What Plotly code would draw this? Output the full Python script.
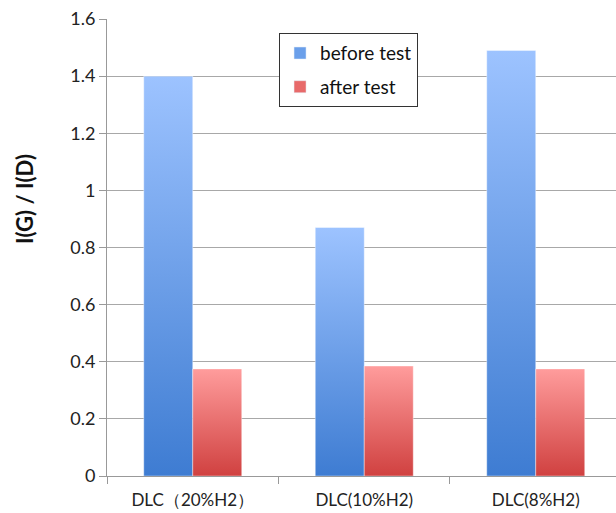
import plotly.graph_objects as go

categories = ["DLC（20%H2）", "DLC(10%H2)", "DLC(8%H2)"]
before_test = [1.40, 0.87, 1.49]
after_test = [0.375, 0.385, 0.375]
y_ticks = [0, 0.2, 0.4, 0.6, 0.8, 1, 1.2, 1.4, 1.6]
y_tick_text = ["0", "0.2", "0.4", "0.6", "0.8", "1", "1.2", "1.4", "1.6"]

series = [
    ("before test", before_test, "#3E7CD2", "#9DC3FF", "#6A9FEA", -1),
    ("after test", after_test, "#D04140", "#FF9C9C", "#E86A6A", 0),
]
bar_w = 0.2857

fig = go.Figure()
for name, vals, bottom, top, mid, side in series:
    for i, v in enumerate(vals):
        x0 = i + side * bar_w
        x1 = x0 + bar_w
        fig.add_trace(go.Scatter(
            x=[x0, x0, x1, x1, x0], y=[0, v, v, 0, 0],
            mode="lines", line=dict(width=0.8, color="rgba(255,255,255,0.5)"),
            fill="toself",
            fillgradient=dict(type="vertical", colorscale=[[0, bottom], [1, top]]),
            showlegend=False, hoverinfo="skip",
        ))
    fig.add_trace(go.Bar(x=[None], y=[None], name=name, marker_color=mid,
                         legendgroup=name, showlegend=True))

font_family = "Lato, 'Open Sans', sans-serif"
fig.update_layout(
    width=616, height=513,
    margin=dict(l=107, r=0, t=19, b=37),
    plot_bgcolor="white", paper_bgcolor="white",
    font=dict(family=font_family, size=17, color="#222"),
    showlegend=True,
    legend=dict(x=0.338, y=0.969, xanchor="left", yanchor="top",
                bordercolor="#333", borderwidth=1, bgcolor="white",
                font=dict(size=19, color="#111"), tracegroupgap=6,
                itemwidth=30),
    xaxis=dict(range=[-0.5, 2.468], tickvals=[0, 1, 2], ticktext=categories,
               ticks="outside", ticklen=9, tickcolor="rgba(0,0,0,0)",
               tickfont=dict(size=17, color="#222"),
               showgrid=False, zeroline=False, showline=True, linecolor="#999",
               linewidth=1,
               minor=dict(tick0=-0.5, dtick=1, ticks="outside", ticklen=7,
                          tickcolor="#999", showgrid=False)),
    yaxis=dict(range=[0, 1.6], tickvals=y_ticks, ticktext=y_tick_text,
               ticks="outside", ticklen=7, tickcolor="#999",
               tickfont=dict(size=18, color="#222"),
               showgrid=True, gridcolor="#A8A8A8", gridwidth=1,
               zeroline=False, showline=True, linecolor="#999", linewidth=1),
    annotations=[dict(text="<b>I(G) / I(D)</b>", xref="paper", yref="paper",
                      x=-0.162, y=0.605, textangle=-90, showarrow=False,
                      font=dict(size=22, color="#111", family=font_family),
                      xanchor="center", yanchor="middle")],
)

fig.write_html("out.html")
